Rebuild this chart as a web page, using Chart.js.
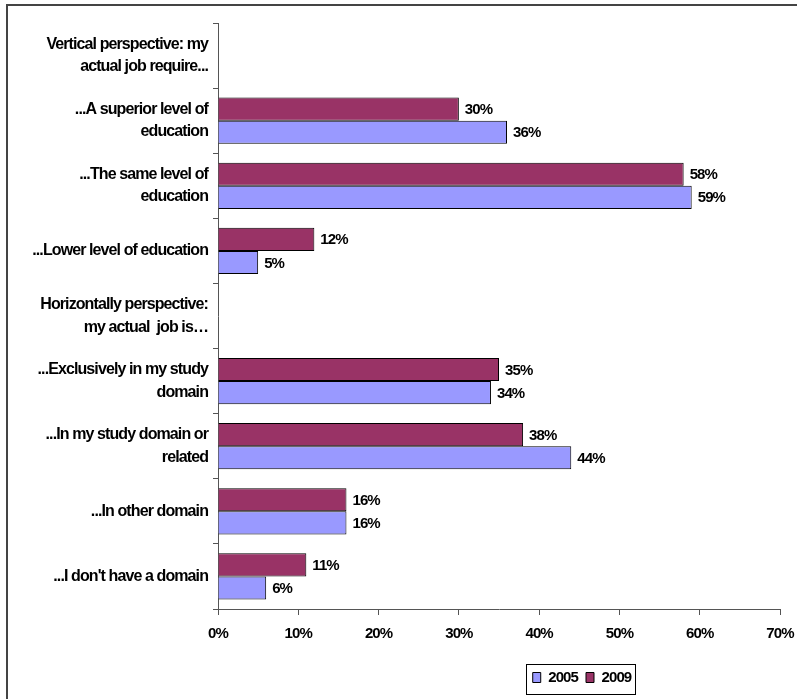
<!DOCTYPE html>
<html>
<head>
<meta charset="utf-8">
<script src="https://cdn.jsdelivr.net/npm/chart.js@4"></script>
<style>
    body { margin: 0; background: #ffffff; }
    #wrap { position: absolute; left: 0; top: 0; width: 797px; height: 699px; }
    #frame { position: absolute; left: 6px; top: 4px; width: 791px; height: 695px;
             border-top: 2px solid #444444; border-left: 2px solid #444444; box-sizing: border-box; }
    #graph { position: absolute; left: 0; top: 0; }
</style>
</head>
<body>
<div id="wrap">
    <div id="frame"></div>
    <canvas id="graph" width="797" height="699" style="width:797px;height:699px"></canvas>
</div>
<script>
// Category labels (multi-line where the original wraps)
const categories = [
    ["Vertical perspective: my", "actual job require..."],
    ["...A superior level of", "education"],
    ["...The same level of", "education"],
    "...Lower level of education",
    ["Horizontally perspective:", "my actual  job is\u2026"],
    ["...Exclusively in my study", "domain"],
    ["...In my study domain or", "related"],
    "...In other domain",
    "...I don't have a domain"
];

// Series values in percent (header rows have no bars)
const values2005 = [null, 36, 59, 5, null, 34, 44, 16, 6];
const values2009 = [null, 30, 58, 12, null, 35, 38, 16, 11];

// Tick labels along the x axis
const xTicks = ["0%", "10%", "20%", "30%", "40%", "50%", "60%", "70%"];

const FONT = "'Liberation Sans', Arial, sans-serif";

// The original text is tightly spaced; the canvas gets reset on resize so set it again
const tightText = {
    id: 'tightText',
    beforeUpdate(chart) { chart.ctx.letterSpacing = '-0.9px'; },
    beforeDraw(chart) { chart.ctx.letterSpacing = '-0.9px'; }
};

// The legend sits right of centre in the original, so slide it over
const legendShift = {
    id: 'legendShift',
    afterLayout(chart) {
        chart.legend.left += 192;
        chart.legend.right += 192;
    }
};

// Draws the value at the end of every bar
const valueLabels = {
    id: 'valueLabels',
    afterDatasetsDraw(chart) {
        const ctx = chart.ctx;
        ctx.save();
        ctx.font = "bold 15px " + FONT;
        ctx.fillStyle = '#000000';
        ctx.textAlign = 'left';
        ctx.textBaseline = 'middle';
        chart.data.datasets.forEach((ds, i) => {
            chart.getDatasetMeta(i).data.forEach((bar, j) => {
                if (ds.data[j] == null) return;
                ctx.fillText(ds.data[j] + '%', bar.x + 6, bar.y + 1);
            });
        });
        ctx.restore();
    }
};

// Draws the rectangle around the legend
const legendBox = {
    id: 'legendBox',
    afterDraw(chart) {
        const boxes = chart.legend.legendHitBoxes;
        if (!boxes || !boxes.length) return;
        let left = Infinity, right = -Infinity, top = Infinity, bottom = -Infinity;
        boxes.forEach(b => {
            left = Math.min(left, b.left);
            right = Math.max(right, b.left + b.width);
            top = Math.min(top, b.top);
            bottom = Math.max(bottom, b.top + b.height);
        });
        const ctx = chart.ctx;
        ctx.save();
        ctx.strokeStyle = '#000000';
        ctx.lineWidth = 1;
        ctx.strokeRect(Math.round(left - 7) + 0.5, Math.round(top - 6) + 0.5,
                       Math.round(right - left + 10), Math.round(bottom - top + 15));
        ctx.restore();
    }
};

let ctx = document.getElementById('graph');

let barChart = new Chart(ctx, {
    type: 'bar',
    data: {
        labels: categories,
        datasets: [
            {
                label: '2009',
                data: values2009,
                backgroundColor: '#993366',
                borderColor: '#000000',
                borderWidth: 1
            },
            {
                label: '2005',
                data: values2005,
                backgroundColor: '#9999FF',
                borderColor: '#000000',
                borderWidth: 1
            }
        ]
    },
    options: {
        indexAxis: 'y',
        responsive: false,
        maintainAspectRatio: false,
        animation: false,
        devicePixelRatio: 1,
        categoryPercentage: 0.71,
        barPercentage: 1.0,
        layout: {
            padding: { left: 0, right: 17, top: 23, bottom: 4 }
        },
        plugins: {
            legend: {
                position: 'bottom',
                reverse: true,
                labels: {
                    color: '#000000',
                    font: { family: FONT, size: 15, weight: 'bold' },
                    boxWidth: 8,
                    boxHeight: 10,
                    padding: 8,
                    generateLabels(chart) {
                        return chart.data.datasets.map((ds, i) => ({
                            text: ds.label,
                            fillStyle: ds.backgroundColor,
                            strokeStyle: '#000000',
                            lineWidth: 1,
                            datasetIndex: i,
                            hidden: false
                        }));
                    }
                }
            },
            tooltip: { enabled: false }
        },
        scales: {
            x: {
                min: 0,
                max: 70,
                ticks: {
                    stepSize: 10,
                    color: '#000000',
                    padding: 10,
                    maxRotation: 0,
                    font: { family: FONT, size: 15, weight: 'bold' },
                    callback: (v, i) => xTicks[i]
                },
                grid: {
                    drawOnChartArea: false,
                    drawTicks: true,
                    tickLength: 6,
                    color: '#555555'
                },
                border: { display: true, color: '#555555', width: 1 },
                afterFit(scale) {
                    scale.height = 53;
                    // let the layout padding alone decide the right edge
                    scale.paddingRight = 0;
                }
            },
            y: {
                ticks: {
                    color: '#000000',
                    padding: 5,
                    autoSkip: false,
                    font: { family: FONT, size: 16, weight: 'bold', lineHeight: 1.4 }
                },
                grid: {
                    drawOnChartArea: false,
                    drawTicks: true,
                    tickLength: 5,
                    offset: true,
                    color: '#555555'
                },
                border: { display: true, color: '#555555', width: 1 },
                afterFit(scale) { scale.width = 218; }
            }
        }
    },
    plugins: [tightText, legendShift, valueLabels, legendBox]
});
</script>
</body>
</html>
